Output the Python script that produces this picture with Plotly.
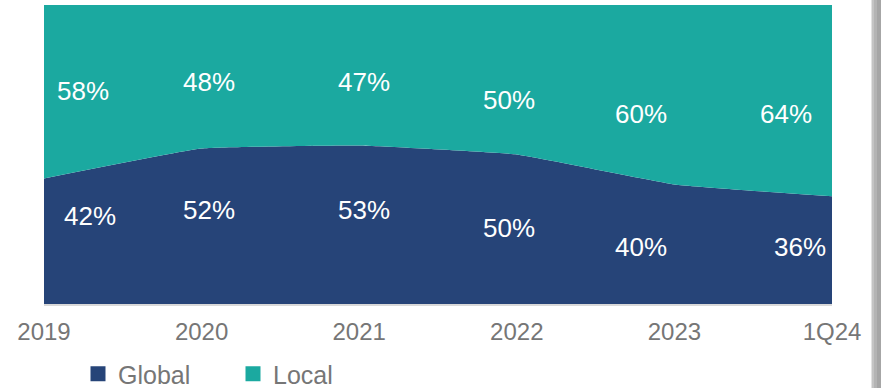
import plotly.graph_objects as go

categories = ["2019", "2020", "2021", "2022", "2023", "1Q24"]
global_share = [42, 52, 53, 50, 40, 36]
local_share = [58, 48, 47, 50, 60, 64]

C_GLOBAL = "#264478"
C_LOCAL = "#1BA9A0"
GREY_TXT = "#767676"

xs = list(range(len(categories)))

fig = go.Figure()
fig.add_trace(go.Scatter(x=xs, y=global_share, stackgroup="one", mode="lines",
                         line=dict(width=0, shape="spline", smoothing=0.3, color=C_GLOBAL),
                         fillcolor=C_GLOBAL, name="Global", showlegend=False, hoverinfo="skip"))
fig.add_trace(go.Scatter(x=xs, y=local_share, stackgroup="one", mode="lines",
                         line=dict(width=0, shape="spline", smoothing=0.3, color=C_LOCAL),
                         fillcolor=C_LOCAL, name="Local", showlegend=False, hoverinfo="skip"))
# legend entries
fig.add_trace(go.Scatter(x=[None], y=[None], mode="markers", name="Global",
                         marker=dict(symbol="square", size=15, color=C_GLOBAL)))
fig.add_trace(go.Scatter(x=[None], y=[None], mode="markers", name="Local",
                         marker=dict(symbol="square", size=15, color=C_LOCAL)))

# label placement offsets (x in category units, y in percent)
local_pos = [(0.25, 71.1), (1.05, 74.2), (2.03, 74.2), (2.95, 68.1), (3.79, 63.4), (4.71, 63.4)]
global_pos = [(0.29, 29.5), (1.05, 31.5), (2.03, 31.5), (2.95, 25.5), (3.79, 19.1), (4.8, 19.1)]

for i in range(len(categories)):
    fig.add_annotation(x=local_pos[i][0], y=local_pos[i][1], text=f"{local_share[i]}%",
                       showarrow=False, font=dict(size=26, color="white"))
    fig.add_annotation(x=global_pos[i][0], y=global_pos[i][1], text=f"{global_share[i]}%",
                       showarrow=False, font=dict(size=26, color="white"))

W, H = 881, 388
L, R, T, B = 44, 49, 5, 84
pw = W - L - R
ph = H - T - B

# right-hand page edge shading
edge = [(871, 872, "#e2e2e2"), (872, 874, "#c4c4c4"), (874, 877, "#b4b4b4"), (877, 881, "#a6a6a6")]
for x0, x1, c in edge:
    fig.add_shape(type="rect", xref="paper", yref="paper",
                  x0=(x0 - L) / pw, x1=(x1 - L) / pw, y0=-B / ph, y1=1 + T / ph,
                  fillcolor=c, line=dict(width=0), layer="above")

fig.update_layout(
    width=W, height=H,
    margin=dict(l=L, r=R, t=T, b=B, autoexpand=False),
    paper_bgcolor="white", plot_bgcolor="white",
    font=dict(family="Liberation Sans, Arial, sans-serif", color=GREY_TXT),
    showlegend=True,
    legend=dict(orientation="h", traceorder="normal", x=(78 - L) / pw, xanchor="left",
                y=-(374 - (H - B)) / ph, yanchor="middle",
                font=dict(size=25, color=GREY_TXT), itemwidth=30, entrywidth=110,
                bgcolor="rgba(0,0,0,0)"),
    xaxis=dict(range=[0, 5], tickvals=xs, ticktext=categories, showgrid=False,
               zeroline=False, showline=True, linecolor="#d9d9d9", linewidth=2,
               ticks="outside", ticklen=5, tickcolor="rgba(0,0,0,0)",
               tickfont=dict(size=24, color=GREY_TXT)),
    yaxis=dict(range=[0, 100], visible=False),
)

fig.write_html("out.html")
